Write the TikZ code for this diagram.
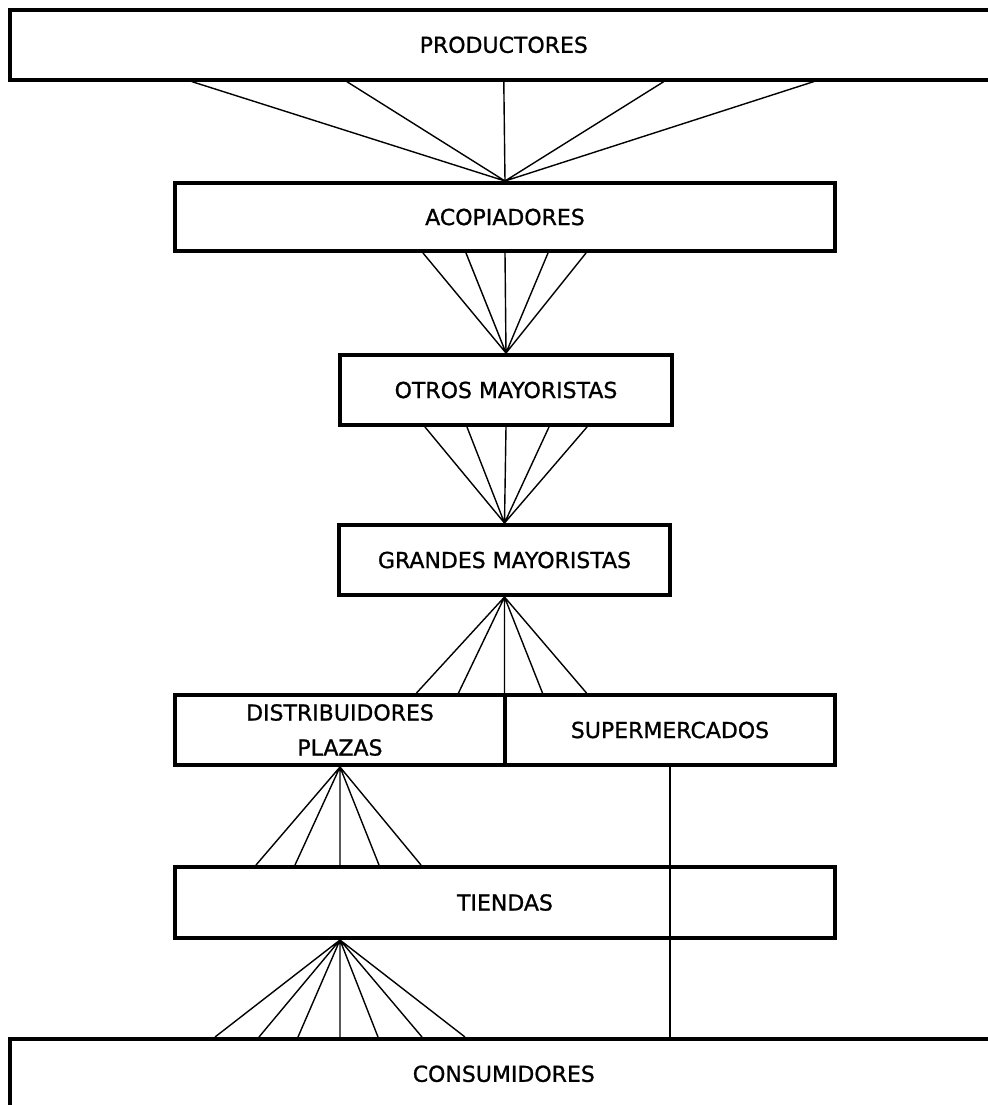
\documentclass[tikz,border=0pt]{standalone}
\usepackage{fontspec}
\setmainfont{DejaVu Sans}[FakeBold=1]
\usetikzlibrary{calc}
\tikzset{
  box/.style={draw, rectangle, anchor=north west, inner sep=0pt,
              line width=2pt, font=\fontsize{11}{17.5}\selectfont},
  widebox/.style={box, line width=1.8pt},
  link/.style={line width=0.7pt}
}
\begin{document}
\begin{tikzpicture}[x=0.5pt,y=-0.5pt]
\clip (0,0) rectangle (988,1105);
% levels of the chain
\node[widebox, minimum width=494pt, minimum height=35pt] (prod) at (8,8) {PRODUCTORES};
\node[box, minimum width=330pt, minimum height=34pt] (acop) at (173,181) {ACOPIADORES};
\node[box, minimum width=166pt, minimum height=35pt] (otros) at (338,353) {OTROS MAYORISTAS};
\node[box, minimum width=165.5pt, minimum height=35pt] (grandes) at (337,523) {GRANDES MAYORISTAS};
\node[box, minimum width=165pt, minimum height=35pt, align=center] (dist) at (173,693) {DISTRIBUIDORES\\PLAZAS};
\node[box, minimum width=165pt, minimum height=35pt] (super) at (503,693) {SUPERMERCADOS};
\node[box, minimum width=330pt, minimum height=35.5pt] (tiendas) at (173,865) {TIENDAS};
\node[widebox, minimum width=494pt, minimum height=35pt] (cons) at (8,1037) {CONSUMIDORES};
\coordinate (tsrc) at (dist.south |- tiendas.south);
% productores -> acopiadores
\draw[link] (acop.north) -- ($(prod.south)+(-312,0)$)
            (acop.north) -- ($(prod.south)+(-157,0)$)
            (acop.north) -- (prod.south)
            (acop.north) -- ($(prod.south)+(160,0)$)
            (acop.north) -- ($(prod.south)+(310,0)$);
% acopiadores -> otros mayoristas
\draw[link] (otros.north) -- ($(acop.south)+(-82,0)$)
            (otros.north) -- ($(acop.south)+(-39,0)$)
            (otros.north) -- (acop.south)
            (otros.north) -- ($(acop.south)+(43,0)$)
            (otros.north) -- ($(acop.south)+(81,0)$);
% otros -> grandes mayoristas
\draw[link] (grandes.north) -- ($(otros.south)+(-81,0)$)
            (grandes.north) -- ($(otros.south)+(-39,0)$)
            (grandes.north) -- (otros.south)
            (grandes.north) -- ($(otros.south)+(43,0)$)
            (grandes.north) -- ($(otros.south)+(81,0)$);
% grandes -> distribuidores y supermercados
\draw[link] (grandes.south) -- ($(grandes.south |- dist.north)+(-88,0)$)
            (grandes.south) -- ($(grandes.south |- dist.north)+(-46,0)$)
            (grandes.south) -- (grandes.south |- dist.north)
            (grandes.south) -- ($(grandes.south |- dist.north)+(38,0)$)
            (grandes.south) -- ($(grandes.south |- dist.north)+(82,0)$);
% distribuidores -> tiendas
\draw[link] (dist.south) -- ($(dist.south |- tiendas.north)+(-84,0)$)
            (dist.south) -- ($(dist.south |- tiendas.north)+(-45,0)$)
            (dist.south) -- (dist.south |- tiendas.north)
            (dist.south) -- ($(dist.south |- tiendas.north)+(39,0)$)
            (dist.south) -- ($(dist.south |- tiendas.north)+(81,0)$);
% supermercados -> consumidores
\draw[link] (super.south) -- (super.south |- cons.north);
% tiendas -> consumidores
\draw[link] (tsrc) -- ($(tsrc |- cons.north)+(-125,0)$)
            (tsrc) -- ($(tsrc |- cons.north)+(-81,0)$)
            (tsrc) -- ($(tsrc |- cons.north)+(-42,0)$)
            (tsrc) -- (tsrc |- cons.north)
            (tsrc) -- ($(tsrc |- cons.north)+(38,0)$)
            (tsrc) -- ($(tsrc |- cons.north)+(82,0)$)
            (tsrc) -- ($(tsrc |- cons.north)+(125,0)$);
\end{tikzpicture}
\end{document}
